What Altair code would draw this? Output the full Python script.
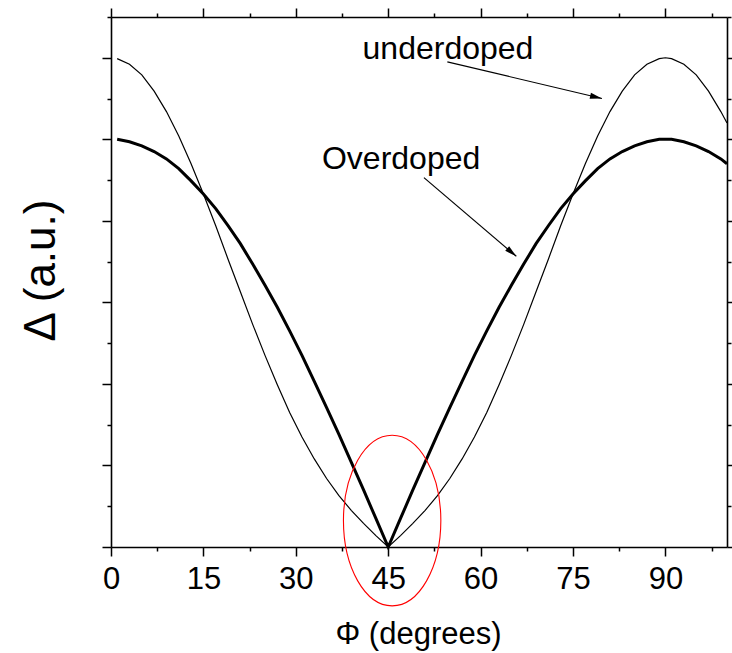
import altair as alt
import pandas as pd

# ---- data ----
phi = [1, 3, 5, 7, 9, 11, 13, 15, 17, 19, 21, 23, 25, 27, 29, 31, 33, 35, 37, 39, 41, 43,
       45,
       47, 49, 51, 53, 55, 57, 59, 61, 63, 65, 67, 69, 71, 73, 75, 77, 79, 81, 83, 85, 87, 89,
       90, 91, 93, 95, 97, 99, 100]
underdoped = [5.99, 5.92, 5.79, 5.59, 5.34, 5.04, 4.70, 4.33, 3.94, 3.53, 3.13, 2.73, 2.35, 1.99,
              1.65, 1.35, 1.08, 0.84, 0.63, 0.45, 0.29, 0.14,
              0.00,
              0.14, 0.29, 0.45, 0.63, 0.84, 1.08, 1.35, 1.65, 1.99, 2.35, 2.73, 3.13, 3.53, 3.94,
              4.33, 4.70, 5.04, 5.34, 5.59, 5.79, 5.92, 5.99,
              6.00, 5.99, 5.92, 5.79, 5.59, 5.34, 5.20]
overdoped = [5.00, 4.97, 4.92, 4.85, 4.76, 4.64, 4.49, 4.33, 4.15, 3.94, 3.72, 3.47, 3.21, 2.94,
             2.65, 2.35, 2.03, 1.71, 1.38, 1.04, 0.70, 0.35,
             0.00,
             0.35, 0.70, 1.04, 1.38, 1.71, 2.03, 2.35, 2.65, 2.94, 3.21, 3.47, 3.72, 3.94, 4.15,
             4.33, 4.49, 4.64, 4.76, 4.85, 4.92, 4.97, 5.00,
             5.00, 5.00, 4.97, 4.92, 4.85, 4.76, 4.70]

x_ticks = [0, 7.5, 15, 22.5, 30, 37.5, 45, 52.5, 60, 67.5, 75, 82.5, 90, 97.5]
y_ticks = [0, 0.5, 1, 1.5, 2, 2.5, 3, 3.5, 4, 4.5, 5, 5.5, 6, 6.5]

label_text = ["underdoped", "Overdoped"]
label_x = [54.7, 47.1]
label_y = [5.98, 4.63]

arrow_x1 = [54.6, 50.8]
arrow_y1 = [5.95, 4.53]
arrow_x2 = [79.7, 65.8]
arrow_y2 = [5.50, 3.565]
arrow_angle = [103.3, 130.4]

ellipse_x = [45.64]
ellipse_y = [0.324]

# ---- tables ----
curves = pd.DataFrame({"phi": phi, "under": underdoped, "over": overdoped})
labels = pd.DataFrame({"t": label_text, "x": label_x, "y": label_y})
arrows = pd.DataFrame({"x": arrow_x1, "y": arrow_y1, "x2": arrow_x2, "y2": arrow_y2,
                       "ang": arrow_angle})
ell = pd.DataFrame({"x": ellipse_x, "y": ellipse_y})

FONT = "Liberation Sans"
xs = alt.Scale(domain=[0, 100], nice=False, zero=False)
ys = alt.Scale(domain=[0, 6.5], nice=False, zero=False)

dash_x = {"condition": {"test": "datum.value % 15 !== 0", "value": [4, 30]}, "value": [1, 0]}
dash_y = {"condition": {"test": "datum.value % 1 !== 0", "value": [4, 30]}, "value": [1, 0]}

common = dict(grid=False, domainColor="black", domainWidth=1.6, tickColor="black",
              tickWidth=1.5, tickSize=9)

ax_bottom = alt.Axis(orient="bottom", values=x_ticks, tickDash=dash_x,
                     labelExpr="datum.value % 15 === 0 ? datum.label : ''",
                     labelFont=FONT, labelFontSize=31, labelColor="black", labelPadding=8,
                     labelFlush=False, labelOverlap=False,
                     title="Φ (degrees)", titleFont=FONT, titleFontSize=31,
                     titleFontWeight="normal", titleColor="black", titleX=307, titleY=96,
                     titleBaseline="alphabetic", titleAlign="center", **common)
ax_top = alt.Axis(orient="top", values=x_ticks, tickDash=dash_x, labels=False, title="",
                  **common)
ax_left = alt.Axis(orient="left", values=y_ticks, tickDash=dash_y, labels=False,
                   title="Δ (a.u.)", titleFont=FONT, titleFontSize=44,
                   titleFontWeight="normal", titleColor="black", titleAngle=270,
                   titleX=-70, titleY=253, titleBaseline="middle", titleAlign="center",
                   **common)
ax_right = alt.Axis(orient="right", values=y_ticks, tickDash=dash_y, labels=False, title="",
                    **common)

base = alt.Chart(curves)

over_line = base.mark_line(color="black", strokeWidth=3).encode(
    x=alt.X("phi:Q", scale=xs, axis=ax_bottom),
    y=alt.Y("over:Q", scale=ys, axis=ax_left),
)
under_line = base.mark_line(color="black", strokeWidth=1.2).encode(
    x=alt.X("phi:Q", scale=xs, axis=ax_top),
    y=alt.Y("under:Q", scale=ys, axis=ax_right),
)

text = alt.Chart(labels).mark_text(font=FONT, fontSize=32, align="center",
                                   baseline="alphabetic", color="black").encode(
    x=alt.X("x:Q", scale=xs, axis=None),
    y=alt.Y("y:Q", scale=ys, axis=None),
    text="t:N",
)

rules = alt.Chart(arrows).mark_rule(color="black", strokeWidth=1.2).encode(
    x=alt.X("x:Q", scale=xs, axis=None),
    y=alt.Y("y:Q", scale=ys, axis=None),
    x2="x2:Q",
    y2="y2:Q",
)

heads = alt.Chart(arrows).mark_point(
    shape="M0,0 L0.5,2 L-0.5,2 Z", size=144, filled=True, color="black", opacity=1,
    strokeWidth=0
).encode(
    x=alt.X("x2:Q", scale=xs, axis=None),
    y=alt.Y("y2:Q", scale=ys, axis=None),
    angle=alt.Angle("ang:Q", scale=None),
)

ellipse = alt.Chart(ell).mark_point(
    shape="M-0.571,0 A0.571,1 0 1,0 0.571,0 A0.571,1 0 1,0 -0.571,0 Z",
    size=29100, filled=False, stroke="red", strokeWidth=1.1, opacity=1
).encode(
    x=alt.X("x:Q", scale=xs, axis=None),
    y=alt.Y("y:Q", scale=ys, axis=None),
)

chart = alt.layer(over_line, under_line, rules, heads, text, ellipse).resolve_axis(
    x="independent", y="independent"
).properties(
    width=616, height=530,
    padding={"left": 111, "top": 17, "right": 5, "bottom": 106},
    autosize=alt.AutoSizeParams(type="none"),
    background="white",
).configure_view(stroke=None)

chart.save("out.html", embed_options={"renderer": "svg", "actions": False})
